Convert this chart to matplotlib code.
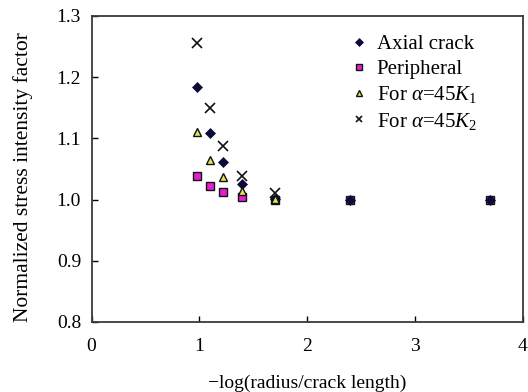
import matplotlib
matplotlib.use("Agg")
import matplotlib.pyplot as plt

plt.rcParams['font.family'] = ['Liberation Serif', 'DejaVu Serif']
plt.rcParams['mathtext.fontset'] = 'custom'
plt.rcParams['mathtext.rm'] = 'Liberation Serif'
plt.rcParams['mathtext.it'] = 'Liberation Serif:italic'

x_axial = [0.98, 1.10, 1.22, 1.40, 1.70, 2.40, 3.70]
y_axial = [1.184, 1.108, 1.062, 1.026, 1.001, 1.000, 1.000]

x_peri = [0.98, 1.10, 1.22, 1.40, 1.70, 2.40, 3.70]
y_peri = [1.038, 1.022, 1.013, 1.004, 1.000, 1.000, 1.000]

x_k1 = [0.98, 1.10, 1.22, 1.40, 1.70]
y_k1 = [1.110, 1.065, 1.037, 1.014, 1.001]

x_k2 = [0.98, 1.10, 1.22, 1.40, 1.70]
y_k2 = [1.256, 1.150, 1.087, 1.038, 1.010]

xticks = [0, 1, 2, 3, 4]
yticks = [0.8, 0.9, 1.0, 1.1, 1.2, 1.3]

fig = plt.figure(figsize=(5.28, 3.92), dpi=100)
ax = fig.add_axes([0.1733, 0.1786, 0.8167, 0.7806])

h_peri, = ax.plot(x_peri, y_peri, linestyle='none', marker='s', markersize=6,
                  markerfacecolor='#e61ed2', markeredgecolor='#111111', markeredgewidth=1.0,
                  label='Peripheral', zorder=3)
h_ax, = ax.plot(x_axial, y_axial, linestyle='none', marker='D', markersize=5.5,
                markerfacecolor='#0b0b3a', markeredgecolor='#0b0b3a', markeredgewidth=0.5,
                label='Axial crack', zorder=4)
h_k1, = ax.plot(x_k1, y_k1, linestyle='none', marker='^', markersize=6,
                markerfacecolor='#e3e35a', markeredgecolor='#111111', markeredgewidth=1.0,
                label=r'For $\mathit{\alpha}$=45$\mathit{K}_1$', zorder=5)
h_k2, = ax.plot(x_k2, y_k2, linestyle='none', marker='x', markersize=6.5,
                markeredgecolor='#111111', markeredgewidth=1.2,
                label=r'For $\mathit{\alpha}$=45$\mathit{K}_2$', zorder=6)

ax.set_xlim(0, 4)
ax.set_ylim(0.8, 1.3)
ax.set_xticks(xticks)
ax.set_yticks(yticks)
ax.set_xticklabels([str(t) for t in xticks])
ax.set_yticklabels([f"{t:.1f}" for t in yticks])
ax.tick_params(direction='in', length=4, width=1, labelsize=14, top=False, right=False)
ax.tick_params(axis='y', pad=7.5)
ax.tick_params(axis='x', pad=11.5)
for s in ax.spines.values():
    s.set_linewidth(1.3)
    s.set_color('#3a3a3a')

ax.set_xlabel('\u2212log(radius/crack length)', fontsize=14)
ax.set_ylabel('Normalized stress intensity factor', fontsize=15.5)
ax.xaxis.set_label_coords(0.5, -0.171)
ax.yaxis.set_label_coords(-0.136, 0.475)

leg = ax.legend(handles=[h_ax, h_peri, h_k1, h_k2], loc='upper left',
                frameon=False, fontsize=15, markerscale=0.7, handlelength=0.6,
                handletextpad=0.55, labelspacing=0.26, borderaxespad=0, borderpad=0,
                bbox_to_anchor=(0.606, 0.94))

fig.savefig('out.png', dpi=100)
